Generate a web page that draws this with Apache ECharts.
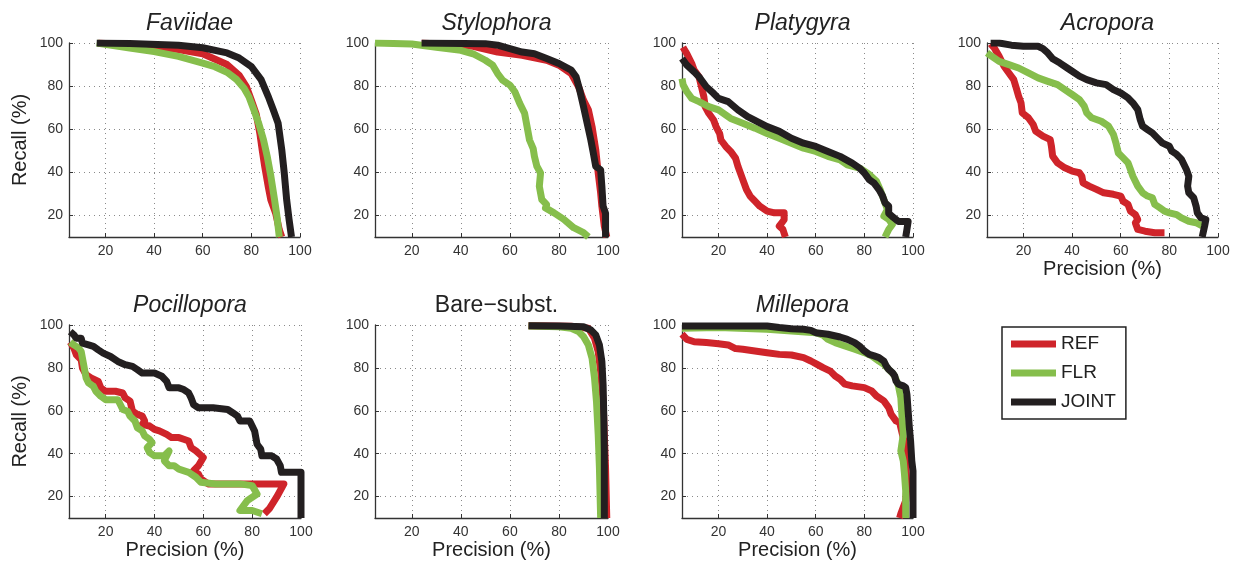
<!DOCTYPE html>
<html>
<head>
<meta charset="utf-8">
<script src="https://cdn.jsdelivr.net/npm/echarts@6/dist/echarts.min.js"></script>
<style>
  html, body { margin: 0; background: #fff; }
  #chart { width: 1243px; height: 566px; }
</style>
</head>
<body>
<div id="chart"></div>
<script>
// panel titles, methods and tick values
const panelNames = ['Faviidae', 'Stylophora', 'Platygyra', 'Acropora', 'Pocillopora', 'Bare\u2212subst.', 'Millepora']
const methods = ['REF', 'FLR', 'JOINT']
const precisionTicks = [20, 40, 60, 80, 100]
const recallTicks = [20, 40, 60, 80, 100]

// [precision, recall]
const faviidaeRef = [[17,100],[30,99],[40,98],[50,97],[60,95],[70,90],[75,85],[78,79.6],[80,73.5],[82,67],[83.5,58],[84.5,50],[85.5,42.6],[87,33],[88,27.3],[90,21],[91.5,13.3],[92.5,10]]
const faviidaeFlr = [[16.4,100],[30,97.7],[40,96],[50,93.8],[60,90.7],[65,89],[70,86.4],[74,83],[77,79],[79,75],[81,69],[83,62.8],[85,55],[86.5,47.5],[88,38.3],[89.5,27.5],[90.5,19.8],[91.5,10]]
const faviidaeJoint = [[16.4,100],[30,99.8],[50,99],[60,97.8],[70,95.4],[75,93],[80,89],[84,83],[87,75],[89,69],[91,62.8],[92.5,50.5],[93.5,40],[94.5,27.4],[95.5,18.2],[96.5,10]]

const stylophoraRef = [[24,100],[45,98.5],[55,95.8],[65,94.3],[75,92],[80,89.7],[85,85.8],[88,79.7],[90,73.5],[92,69],[93.5,61.2],[95,50.5],[96,39.7],[97,30.5],[97.5,24.3],[98.5,15],[99.5,10]]
const stylophoraFlr = [[5,100],[20,99.5],[30,98],[40,96.6],[45,95],[50,92],[53,89.7],[55,85.8],[57,82.8],[60,80.5],[62,77.4],[64,72],[66,67.4],[67,61.2],[68,55],[69.5,51],[70,47.4],[71,42.8],[72.5,39.7],[72,33.5],[73,27.4],[75,25],[74.5,23.5],[78,21.2],[82,18.2],[86,14.3],[90,12],[92,10]]
const stylophoraJoint = [[24,100],[50,99.7],[55,99],[60,97.4],[65,95.8],[70,95],[75,92.8],[80,90.5],[85,87.4],[87,84.3],[88.5,78],[90,70.5],[91.5,62.8],[93,55],[94,49],[95,42.8],[97,41.2],[97.5,33.5],[98,24.3],[99,21],[99,10]]

const platygyraRef = [[5.4,98],[7,95],[9,90.5],[10,87.4],[12,84.3],[13,79.7],[14,75],[14.5,70.5],[16,67.4],[18,64.3],[19,61.2],[20.5,58],[21,55],[23,52],[25,49.7],[27,46.6],[28,42.8],[30,36.6],[31.5,32],[33,29],[35,26.6],[37,24.3],[40,22],[43,21.2],[47,21.2],[47,18],[45,15],[46.5,13.5],[47.5,10]]
const platygyraFlr = [[5,83.5],[5.5,80.5],[7,77.4],[9,74.3],[12,72.8],[16,70.5],[20,69],[25,65],[30,62.8],[35,60.5],[40,58],[45,55.8],[50,53.5],[55,51.2],[60,49.7],[65,47.4],[70,45.8],[73,43.5],[78,42],[82,39],[85,35.8],[86.5,32],[88.5,25.8],[89.5,22.8],[88,19.7],[90,18.2],[91.5,15.8],[90,13.5],[88.5,10]]
const platygyraJoint = [[5,92.8],[7,89.7],[10,86.6],[12,84.3],[15,79.7],[18,76.6],[20,74.3],[24,72.8],[28,69],[32,65.8],[36,63.5],[40,61.2],[45,59],[50,55.8],[55,53.5],[60,52],[65,49.7],[70,47.4],[75,44.3],[78,42],[80,39.7],[82,36.6],[84,35],[86,32],[87.5,29],[88.5,25.8],[90,24.3],[90,21],[92,19],[94,17.2],[98,17.2],[97.5,13.5],[97,10]]

const acroporaRef = [[6.5,99.7],[8,97.7],[10,93.8],[12,89.2],[14,86.1],[16,83],[17,79.2],[18,75.3],[19,72.2],[19.5,67.6],[22,65.3],[24,62.2],[25,59.1],[28,56.8],[31,55.2],[31.5,52.1],[32,47.5],[34,44.4],[37,42.1],[40,40.6],[43,39.8],[44,38.2],[44.5,35.1],[47,33.6],[50,32.1],[53,30.5],[57,29.8],[60,29],[61,26.6],[63,25.1],[64,22],[66,20.4],[67,18.1],[66,16.6],[67,13.5],[70,12.7],[74,12],[78,12]]
const acroporaFlr = [[5,95.4],[7,93.8],[10,91.5],[14,90],[18,88.4],[22,86.1],[26,83.8],[30,82.2],[34,80.7],[37,78.4],[40,76.1],[43,73.7],[45,70.7],[46,67.6],[48,65.3],[52,63.7],[55,61.4],[57,57.5],[58,53.7],[59,49],[61,46.7],[63,44.4],[64,41.3],[65,38.2],[66,35.9],[67,33.6],[69,30.5],[71,29],[73,28.2],[74,25.1],[76,23.6],[78,22],[80,21.2],[83,20.4],[85,18.9],[88,17.3],[91,16.6],[93.5,15.1]]
const acroporaJoint = [[6.5,100],[10,100],[15,99],[20,98.5],[26,98.5],[28,97.4],[30,95.4],[32,92.7],[35,90.7],[38,88.4],[40,86.9],[43,84.6],[46,83],[50,81.5],[54,80.7],[57,78.4],[60,76.8],[63,74.5],[65,72.2],[67,69.1],[68,64.5],[69,61.4],[71,59.8],[73,58.3],[75,56],[77,53.7],[80,52.1],[81,49.8],[83,48.3],[85,46],[86,43.6],[87,41.3],[88,38.2],[87.5,33.6],[88,30.5],[90,28.2],[91,24.3],[91.5,21.2],[93,18.9],[95,18.1],[94.5,15.1],[93.5,10]]

const pocilloporaRef = [[5.5,92],[7,89.2],[8,86.1],[10,83.8],[10.5,79.9],[12,76.8],[14,75.3],[17,73.7],[18,70.7],[20,69.1],[24,69.1],[27,68.3],[28,66],[30,64.5],[31,59.8],[33,58.3],[35,57.5],[36,55.2],[35,53.7],[38,52.9],[40,51.3],[42,50.6],[45,49],[47,47.5],[50,47.5],[52,46.7],[54,45.9],[55,42.8],[57,41.3],[60,38.2],[58,34.4],[56,32.1],[58,30.5],[59,28.2],[62,25.9],[75,25.9],[85,25.9],[93,25.9],[90,19.7],[87,14.3],[85,12]]
const pocilloporaFlr = [[5.5,92],[7,90.7],[9,89.2],[10,87.6],[10.5,84.5],[11,81.5],[11.5,78.4],[12,75.3],[13,73],[15,71.4],[16,69.1],[18,66.8],[20,65.2],[25,65.2],[26,62.9],[27,60.6],[29,59.8],[30,57.5],[32,55.2],[33,52.1],[35,50.6],[36,48.3],[38,46.7],[39,45.2],[37,42.8],[38,40.5],[40,39],[44,39],[46,41.3],[44,36.7],[46,34.4],[48,34.4],[50,32.8],[54,31.3],[57,29],[59,26.7],[65,25.9],[75,25.9],[80,25.1],[82,21.2],[78,18.1],[75,13.5],[80,13.5],[84,12]]
const pocilloporaJoint = [[5.5,96.9],[7,95.4],[8,93.8],[10,93.8],[10.5,91.5],[13,90.7],[15,90],[17,88.4],[19,86.9],[22,85.3],[25,83],[28,81.5],[31,80.7],[33,79.2],[35,77.6],[40,77.6],[43,76.1],[45,73.7],[46,70.7],[50,70.7],[52,69.9],[54,68.3],[55,66],[56,62.9],[58,61.4],[64,61.4],[70,60.6],[72,59.1],[74,57.5],[75,55.2],[79,55.2],[80,52.9],[81,50.6],[81.5,47.5],[82,44.4],[83.5,42.1],[84,39],[88,39],[90,37.5],[91.5,34.4],[92,31.3],[96,31.3],[100,31.3],[100,10]]

const bareRef = [[67.6,99.7],[85,99.4],[92,98.5],[94.5,93.8],[96,87.6],[97,78.4],[98,64.4],[98.5,49],[99,33.5],[99.5,10]]
const bareFlr = [[67.6,99.5],[80,99.2],[85,98.5],[88,96.9],[90,94.6],[92,90.7],[93.5,84.5],[94.5,75.3],[95.3,64.4],[96,49],[96.5,33.5],[97,10]]
const bareJoint = [[67.6,99.7],[80,99.5],[90,99.2],[93,97.7],[95,95.4],[96.5,90.7],[97.5,83],[98,72.1],[98.3,56.7],[98.5,41.2],[98.5,25.7],[98.5,10]]

const milleporaRef = [[5,95.7],[7,93.3],[10,92.2],[15,91.8],[20,91.3],[24,90.7],[27,89],[30,88.7],[35,87.9],[40,87.1],[45,86.3],[50,86],[55,84.8],[58,83.2],[60,82],[63,80.1],[66,78.5],[68,76.2],[70,74.7],[72,72.4],[75,71.6],[80,70.8],[83,69.3],[85,66.9],[88,64.6],[90,61.5],[91,58.4],[93,55.3],[94.5,54.5],[96.5,45],[97,35],[97.5,25],[97,18],[95,12],[94.5,10]]
const milleporaFlr = [[5,98.5],[20,98.8],[40,98],[50,97.2],[60,96.4],[63,95.3],[65,93.3],[68,91.8],[72,90.2],[76,88.7],[80,87.1],[83,85.6],[86,83.2],[88,81.7],[90,79.3],[92,77],[93,74.7],[94,71.6],[95,66.1],[95.5,56.8],[96,49.1],[95,41.3],[96,36.6],[96.5,30.4],[97,22.6],[97,10]]
const milleporaJoint = [[5,99.5],[20,99.5],[40,99.5],[45,98.8],[50,98.3],[55,98],[58,97.5],[60,96.4],[65,95.7],[70,94.4],[73,93.3],[76,91.8],[78,90.2],[80,87.9],[82,86.3],[84,85.6],[86,84.8],[88,83.2],[89,80.9],[90,79.3],[91.5,77.8],[92.5,76.2],[93,73.9],[94,72.4],[96,71.6],[97,70.8],[97.5,67.7],[98,59.9],[98.5,52.2],[99,46],[99.5,36.6],[100,32],[100,10]]

const panelData = [
  [faviidaeRef, faviidaeFlr, faviidaeJoint],
  [stylophoraRef, stylophoraFlr, stylophoraJoint],
  [platygyraRef, platygyraFlr, platygyraJoint],
  [acroporaRef, acroporaFlr, acroporaJoint],
  [pocilloporaRef, pocilloporaFlr, pocilloporaJoint],
  [bareRef, bareFlr, bareJoint],
  [milleporaRef, milleporaFlr, milleporaJoint]
]

const colors = ['#cf242a', '#86be4c', '#231f20']
const font = '"Liberation Sans", Arial, Helvetica, sans-serif'
// left, top, width, height of each plot area
const boxes = [
  [69, 43, 231, 194], [375, 43, 233, 194], [682, 43, 231, 194], [987, 43, 231, 194],
  [69, 325, 232, 193], [375, 325, 233, 193], [682, 325, 231, 193]
]
const showYName = [true, false, false, false, true, false, false]
const showXName = [false, false, false, true, true, true, true]

const grids = [], xAxes = [], yAxes = [], titles = [], series = []
const gridLine = { show: true, lineStyle: { color: '#8a8a8a', width: 1, type: [1, 4] } }

boxes.forEach(function (b, i) {
  grids.push({ left: b[0], top: b[1], width: b[2], height: b[3] })
  titles.push({
    text: panelNames[i],
    left: b[0] + b[2] / 2,
    top: b[1] - 36,
    textAlign: 'center',
    textStyle: {
      fontFamily: font, fontSize: 23, fontWeight: 'normal', color: '#222',
      fontStyle: i === 5 ? 'normal' : 'italic'
    }
  })
  xAxes.push({
    type: 'value', gridIndex: i, min: 5, max: 100,
    name: showXName[i] ? 'Precision (%)' : '',
    nameLocation: 'middle', nameGap: 22,
    nameTextStyle: { fontFamily: font, fontSize: 20, color: '#222' },
    axisLine: { show: true, lineStyle: { color: '#333', width: 1.3 } },
    axisTick: { show: true, inside: true, length: 4, customValues: precisionTicks, lineStyle: { color: '#333' } },
    axisLabel: { customValues: precisionTicks, fontFamily: font, fontSize: 14, color: '#333', margin: 7 },
    splitLine: gridLine
  })
  yAxes.push({
    type: 'value', gridIndex: i, min: 10, max: 100,
    name: showYName[i] ? 'Recall (%)' : '',
    nameLocation: 'middle', nameGap: 39,
    nameTextStyle: { fontFamily: font, fontSize: 20, color: '#222' },
    axisLine: { show: true, lineStyle: { color: '#333', width: 1.3 } },
    axisTick: { show: true, inside: true, length: 4, customValues: recallTicks, lineStyle: { color: '#333' } },
    axisLabel: { customValues: recallTicks, fontFamily: font, fontSize: 14, color: '#333', margin: 6 },
    splitLine: gridLine
  })
  panelData[i].forEach(function (pts, m) {
    series.push({
      name: methods[m],
      type: 'line',
      xAxisIndex: i,
      yAxisIndex: i,
      data: pts,
      showSymbol: false,
      symbol: 'none',
      clip: true,
      animation: false,
      color: colors[m],
      z: 2 + m,
      lineStyle: { width: 7, color: colors[m], join: 'round', cap: 'butt' }
    })
  })
})

const chart = echarts.init(document.getElementById('chart'), null, { renderer: 'canvas' })
chart.setOption({
  backgroundColor: '#fff',
  animation: false,
  title: titles,
  grid: grids,
  xAxis: xAxes,
  yAxis: yAxes,
  legend: {
    data: methods,
    orient: 'vertical',
    left: 1002,
    top: 327,
    padding: [7, 10, 7, 9],
    itemGap: 9,
    itemWidth: 45,
    itemHeight: 7,
    icon: 'rect',
    borderColor: '#222',
    borderWidth: 1.5,
    borderRadius: 0,
    backgroundColor: '#fff',
    selectedMode: false,
    textStyle: { fontFamily: font, fontSize: 19, color: '#222', lineHeight: 20 }
  },
  series: series
})
</script>
</body>
</html>
